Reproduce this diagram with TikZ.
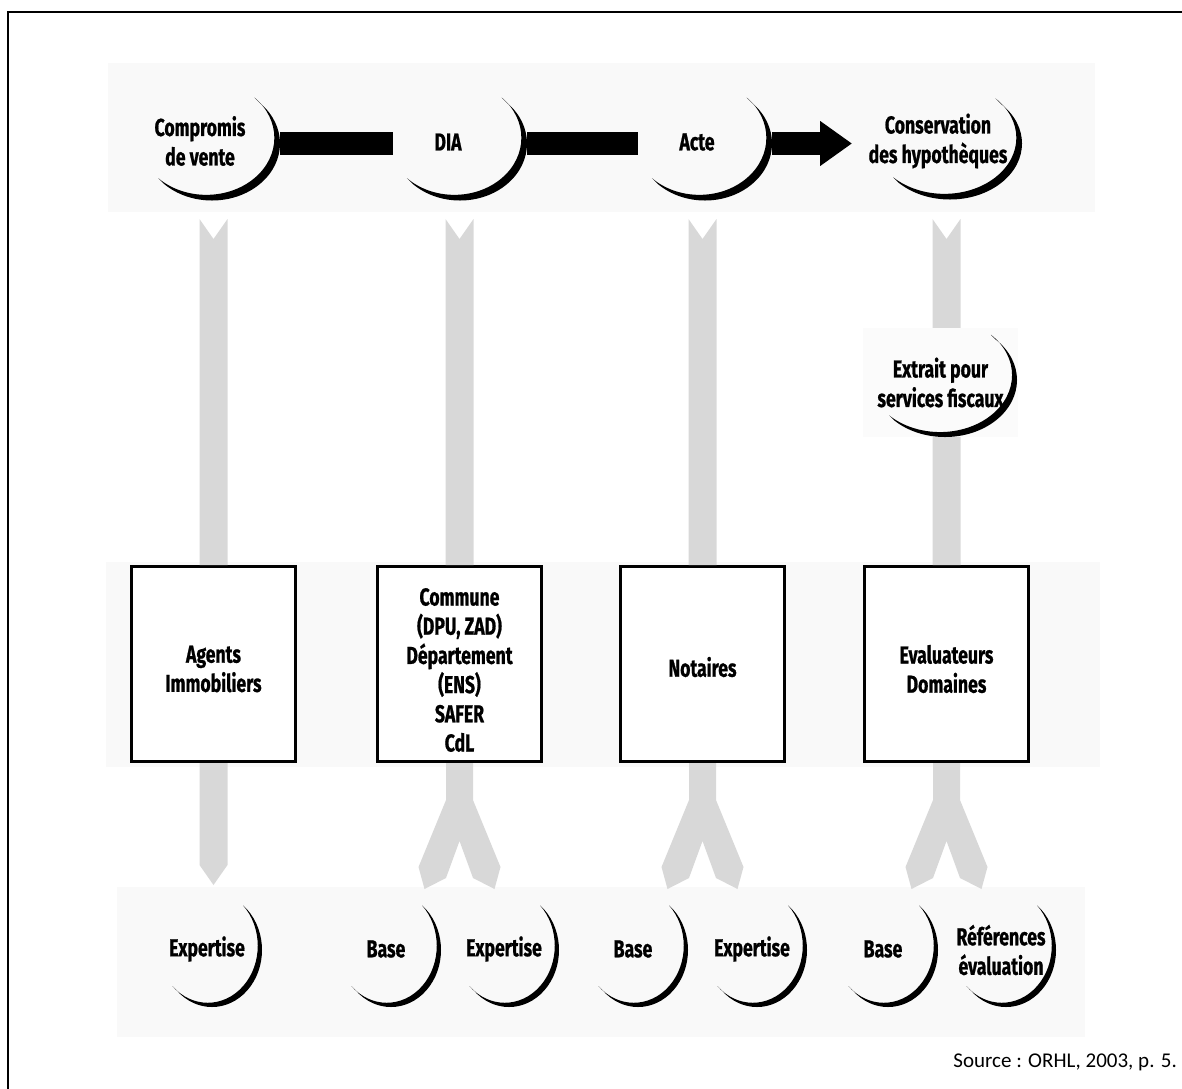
\documentclass[tikz,border=0pt]{standalone}
\usepackage{fontspec}
\setmainfont{Fira Sans}
\newfontfamily\cbfont{Fira Sans}[FakeStretch=0.72,FakeBold=0.8]
\newfontfamily\srcfont{Carlito}
\usetikzlibrary{calc,shapes.geometric,arrows.meta}
\definecolor{arrowgray}{RGB}{216,216,216}
\definecolor{bandgray}{RGB}{249,249,249}
\definecolor{extbg}{RGB}{251,251,251}
\newcommand\drawcres[4]{%
  \fill[crescent] ($(#1.center)+(45:#2pt and #3pt)$)
    arc[start angle=45,end angle=-135,x radius=#2pt,y radius=#3pt]
    -- ++({-0.7071*#4},{0.7071*#4})
    arc[start angle=-135,end angle=45,x radius=#2pt,y radius=#3pt] -- cycle;}
\tikzset{
  lbl/.style={font=\cbfont\bfseries\fontsize{24.5}{29.5}\selectfont, align=center, inner sep=0pt},
  oval/.style 2 args={ellipse, minimum width=#1, minimum height=#2, inner sep=0pt, outer sep=0pt},
  boxnode/.style={draw=black, line width=3pt, fill=white, minimum width=164pt, minimum height=195pt,
    inner sep=0pt, font=\cbfont\bfseries\fontsize{24.5}{29.2}\selectfont, align=center},
  gbar/.style={fill=arrowgray},
  blackbar/.style={draw=black, line width=23pt},
  crescent/.style={fill=black},
  band/.style={fill=bandgray},
  frameline/.style={draw=black, line width=2.2pt},
}
\begin{document}
\begin{tikzpicture}[x=1pt,y=1pt]
\useasboundingbox (0,0) rectangle (1182,-1088);
% frame
\draw[frameline] (8,-1090) -- (8,-12) -- (1184,-12);
% faint scan bands
\fill[band] (108,-63) rectangle (1095,-212);
\fill[band] (106,-562) rectangle (1100,-767);
\fill[band] (117,-887) rectangle (1085,-1037);

% boxes (middle row)
\node[boxnode] (b1) at (213.5,-664) {};
\node[boxnode] (b2) at (459.5,-664) {};
\node[boxnode] (b3) at (702.5,-664) {};
\node[boxnode] (b4) at (946.5,-664) {};

% gray connectors (top part, from top row down to boxes)
\foreach \b in {b1,b2,b3,b4}{
  \fill[gbar] ([xshift=-14pt]\b.north) -- ++(0,346) -- ++(14,-20) -- ++(14,20) -- ++(0,-346) -- cycle;
}
% gray connectors (bottom part)
\fill[gbar] ([xshift=-14pt]b1.south) -- ++(0,-102) -- ++(14,-20) -- ++(14,20) -- ++(0,102) -- cycle;
\foreach \b in {b2,b3,b4}{
  \fill[gbar] ([xshift=-13.5pt]\b.south) -- ++(0,-37) -- ++(-27.5,-67) -- ++(6,-22) -- ++(21.5,11)
    -- ++(13.5,37) -- ++(13.5,-37) -- ++(21.5,-11) -- ++(6,22) -- ++(-27.5,67) -- ++(0,37) -- cycle;
}

% box texts
\node[boxnode, draw=none, fill=none] at ([yshift=-5pt]b1.center) {Agents\\Immobiliers};
\node[boxnode, draw=none, fill=none] at ([yshift=-6pt]b2.center) {Commune\\(DPU, ZAD)\\Département\\(ENS)\\SAFER\\CdL};
\node[boxnode, draw=none, fill=none] at ([yshift=-3pt]b3.center) {Notaires};
\node[boxnode, draw=none, fill=none] at ([yshift=-5pt]b4.center) {Evaluateurs\\Domaines};

% top row
\node[oval={136pt}{114pt}] (cmp) at (212,-143.5) {};
\node[oval={134pt}{114pt}] (dia) at (460,-143.5) {};
\node[oval={134pt}{114pt}] (acte) at (705,-143.5) {};
\node[oval={144pt}{112pt}] (cons) at (950,-143.5) {};
\node[lbl] (cmpT) at (200,-141) {Compromis\\de vente};
\node[lbl] (diaT) at (448,-142) {DIA};
\node[lbl] (acteT) at (697,-142) {Acte};
\node[lbl] (consT) at (938,-141) {Conservation\\des hypothèques};
\drawcres{cmp}{68}{57}{8}
\drawcres{dia}{67}{57}{8}
\drawcres{acte}{67}{57}{8}
\drawcres{cons}{72}{56}{8}
\draw[blackbar] (cmp.east) -- (dia.west);
\draw[blackbar] (dia.east) -- (acte.west);
\draw[blackbar, -{Triangle[length=32pt,width=43pt]}, shorten >=26pt] (acte.east) -- (cons.west);

% extract node
\node[lbl, fill=extbg, minimum width=155pt, minimum height=109pt] (ext) at (940.5,-382.5) {Extrait pour\\services fiscaux};
\node[oval={144pt}{114pt}] (extC) at (945,-380) {};
\drawcres{extC}{72}{57}{7}

% bottom row
\node[lbl] (e1T) at (207,-949) {Expertise};
\node[lbl] (b2T) at (386,-949) {Base};
\node[lbl] (e2T) at (504,-949) {Expertise};
\node[lbl] (b3T) at (633,-949) {Base};
\node[lbl] (e3T) at (752,-949) {Expertise};
\node[lbl] (b4T) at (883,-949) {Base};
\node[lbl] (refT) at (1001,-950) {Références\\évaluation};
\foreach \n/\x in {e1C/212, b2C/391, e2C/509, b3C/638, e3C/757, b4C/888, refC/1006}{
  \node[oval={100pt}{114pt}] (\n) at (\x,-950) {};
  \drawcres{\n}{50}{57}{6}
}

% source
\node[font=\srcfont\fontsize{21}{25}\selectfont, anchor=base east, inner sep=0pt] (src) at (1177,-1067) {Source : ORHL, 2003, p. 5.};
\end{tikzpicture}
\end{document}
